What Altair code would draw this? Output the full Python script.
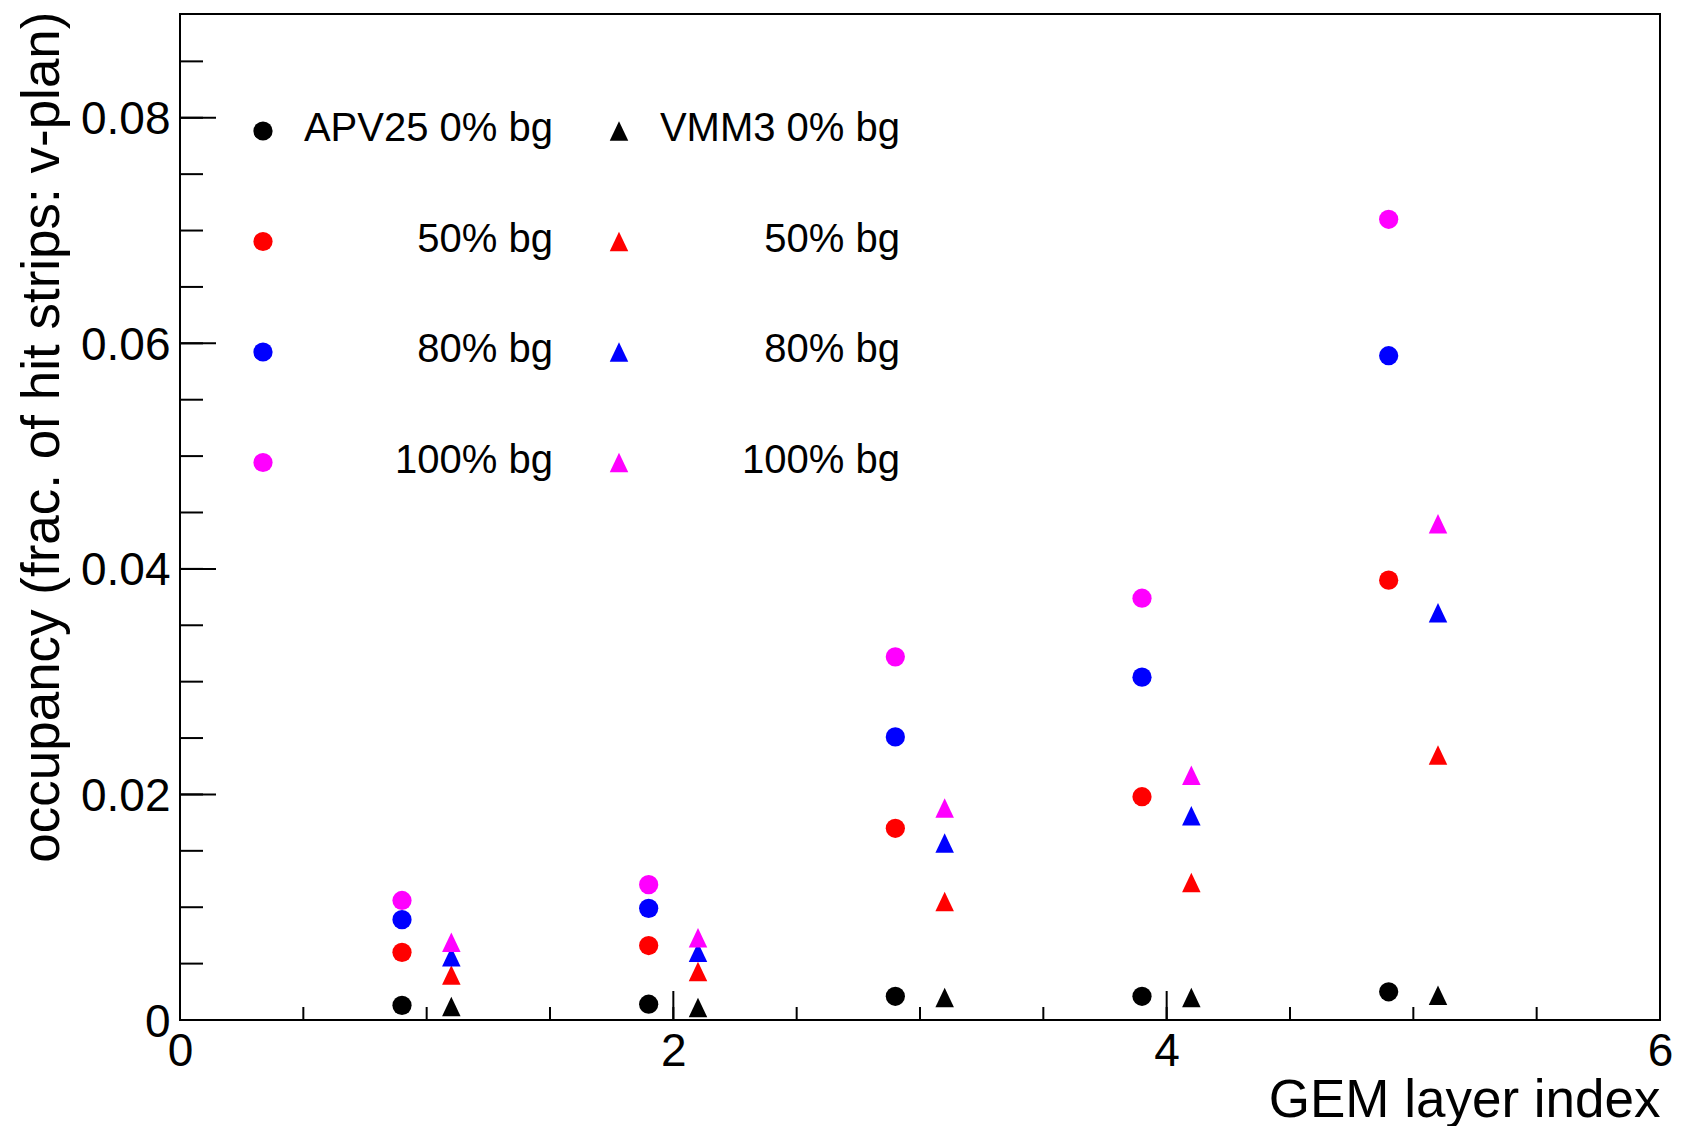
import altair as alt
import pandas as pd

# ---------------- data ----------------
bg_levels = ["0% bg", "50% bg", "80% bg", "100% bg"]
bg_colors = ["#000000", "#ff0000", "#0000ff", "#ff00ff"]

apv_x = [0.9, 1.9, 2.9, 3.9, 4.9]
vmm_x = [1.1, 2.1, 3.1, 4.1, 5.1]

apv_0 = [0.0013, 0.0014, 0.0021, 0.0021, 0.0025]
apv_50 = [0.0060, 0.0066, 0.0170, 0.0198, 0.0390]
apv_80 = [0.0089, 0.0099, 0.0251, 0.0304, 0.0589]
apv_100 = [0.0106, 0.0120, 0.0322, 0.0374, 0.0710]

vmm_0 = [0.0012, 0.0011, 0.0020, 0.0020, 0.0022]
vmm_50 = [0.0040, 0.0043, 0.0105, 0.0122, 0.0235]
vmm_80 = [0.0056, 0.0060, 0.0157, 0.0181, 0.0361]
vmm_100 = [0.0069, 0.0073, 0.0188, 0.0217, 0.0440]

x_labels = [0, 2, 4, 6]
x_minor = [0.5 * i for i in range(13)]
y_labels = [0, 0.02, 0.04, 0.06, 0.08]
y_minor = [0.005 * i for i in range(18)]

legend_apv = ["APV25 0% bg", "50% bg", "80% bg", "100% bg"]
legend_vmm = ["VMM3 0% bg", "50% bg", "80% bg", "100% bg"]

# ---------------- layout / style ----------------
W, H = 1480, 1006
FONT = "Liberation Sans"
X_DOMAIN = [0, 6]
Y_DOMAIN = [0, 0.0892]
CIRCLE_SIZE = 370
TRI_SIZE = 380
TRI_PATH = "M0,-1L-0.95,1L0.95,1Z"

rows = []
for lvl, col, a, v in zip(bg_levels, bg_colors,
                          [apv_0, apv_50, apv_80, apv_100],
                          [vmm_0, vmm_50, vmm_80, vmm_100]):
    for xx, yy in zip(apv_x, a):
        rows.append({"x": xx, "y": yy, "bg": lvl, "chip": "APV25"})
    for xx, yy in zip(vmm_x, v):
        rows.append({"x": xx, "y": yy, "bg": lvl, "chip": "VMM3"})
df = pd.DataFrame(rows)

xs = alt.Scale(domain=X_DOMAIN, nice=False, zero=False)
ys = alt.Scale(domain=Y_DOMAIN, nice=False, zero=False)
cs = alt.Scale(domain=bg_levels, range=bg_colors)

x_axis = alt.Axis(values=x_labels, format="d", title="GEM layer index",
                  ticks=False, tickSize=0, domain=False, grid=False,
                  labelFont=FONT, labelFontSize=46, labelColor="black",
                  labelPadding=9, labelBaseline="top", labelFlush=False,
                  labelOverlap=False,
                  titleFont=FONT, titleFontSize=53, titleFontWeight="normal",
                  titleColor="black", titleAlign="right", titleAnchor="end",
                  titleX=W, titleY=96, titleBaseline="alphabetic")
y_axis = alt.Axis(values=y_labels, format=".2~f",
                  title="occupancy (frac. of hit strips: v-plan)",
                  ticks=False, tickSize=0, domain=False, grid=False,
                  labelFont=FONT, labelFontSize=46, labelColor="black",
                  labelPadding=10, labelOffset=2, labelFlush=False,
                  labelOverlap=False,
                  titleFont=FONT, titleFontSize=53, titleFontWeight="normal",
                  titleColor="black", titleAngle=270, titleAlign="right",
                  titleAnchor="end", titleX=-122, titleY=-3,
                  titleBaseline="alphabetic")

base = alt.Chart(df)
apv = base.transform_filter(alt.datum.chip == "APV25").mark_point(
    filled=True, shape="circle", size=CIRCLE_SIZE, opacity=1
).encode(
    x=alt.X("x:Q", scale=xs, axis=x_axis),
    y=alt.Y("y:Q", scale=ys, axis=y_axis),
    color=alt.Color("bg:N", scale=cs, legend=None),
)
vmm = base.transform_filter(alt.datum.chip == "VMM3").mark_point(
    filled=True, shape=TRI_PATH, size=TRI_SIZE, opacity=1
).encode(
    x=alt.X("x:Q", scale=xs, axis=x_axis),
    y=alt.Y("y:Q", scale=ys, axis=y_axis),
    color=alt.Color("bg:N", scale=cs, legend=None),
)

# inward tick marks (ROOT style)
def xticks(vals, length):
    return alt.Chart(pd.DataFrame({"x": vals})).mark_rule(
        color="black", strokeWidth=2
    ).encode(x=alt.X("x:Q", scale=xs, axis=x_axis),
             y=alt.value(H), y2=alt.value(H - length))

def yticks(vals, length):
    return alt.Chart(pd.DataFrame({"y": vals})).mark_rule(
        color="black", strokeWidth=2
    ).encode(y=alt.Y("y:Q", scale=ys, axis=y_axis),
             x=alt.value(0), x2=alt.value(length))

# legend (two columns of marker + right-aligned text)
LEG_ROW0, LEG_STEP = 117, 110.5
LEG_CIRCLE_X, LEG_APV_TEXT_R = 83, 373
LEG_TRI_X, LEG_VMM_TEXT_R = 439, 720
leg_rows = []
for i, (col, la, lv) in enumerate(zip(bg_colors, legend_apv, legend_vmm)):
    py = LEG_ROW0 + i * LEG_STEP
    leg_rows.append({"mx": LEG_CIRCLE_X, "tx": LEG_APV_TEXT_R, "py": py,
                     "ty": py + 10, "c": col, "label": la, "kind": "apv"})
    leg_rows.append({"mx": LEG_TRI_X, "tx": LEG_VMM_TEXT_R, "py": py,
                     "ty": py + 10, "c": col, "label": lv, "kind": "vmm"})
leg = alt.Chart(pd.DataFrame(leg_rows))
leg_circ = leg.transform_filter(alt.datum.kind == "apv").mark_point(
    filled=True, shape="circle", size=CIRCLE_SIZE, opacity=1
).encode(x=alt.X("mx:Q", scale=None, axis=None),
         y=alt.Y("py:Q", scale=None, axis=None),
         color=alt.Color("c:N", scale=None, legend=None))
leg_tri = leg.transform_filter(alt.datum.kind == "vmm").mark_point(
    filled=True, shape=TRI_PATH, size=TRI_SIZE, opacity=1
).encode(x=alt.X("mx:Q", scale=None, axis=None),
         y=alt.Y("py:Q", scale=None, axis=None),
         color=alt.Color("c:N", scale=None, legend=None))
leg_text = leg.mark_text(
    align="right", baseline="alphabetic", font=FONT, fontSize=40, color="black"
).encode(x=alt.X("tx:Q", scale=None, axis=None),
         y=alt.Y("ty:Q", scale=None, axis=None),
         text="label:N")

chart = alt.layer(
    apv, vmm,
    xticks(x_minor, 13), xticks(x_labels, 29),
    yticks(y_minor, 23), yticks(y_labels, 36),
    leg_circ, leg_tri, leg_text,
).properties(
    width=W, height=H,
    autosize=alt.AutoSizeParams(type="none"),
    padding={"left": 172, "top": 6, "right": 14, "bottom": 106},
    background="white",
).configure_view(stroke="black", strokeWidth=2)

chart.save("out.html", embed_options={"renderer": "svg", "actions": False})
